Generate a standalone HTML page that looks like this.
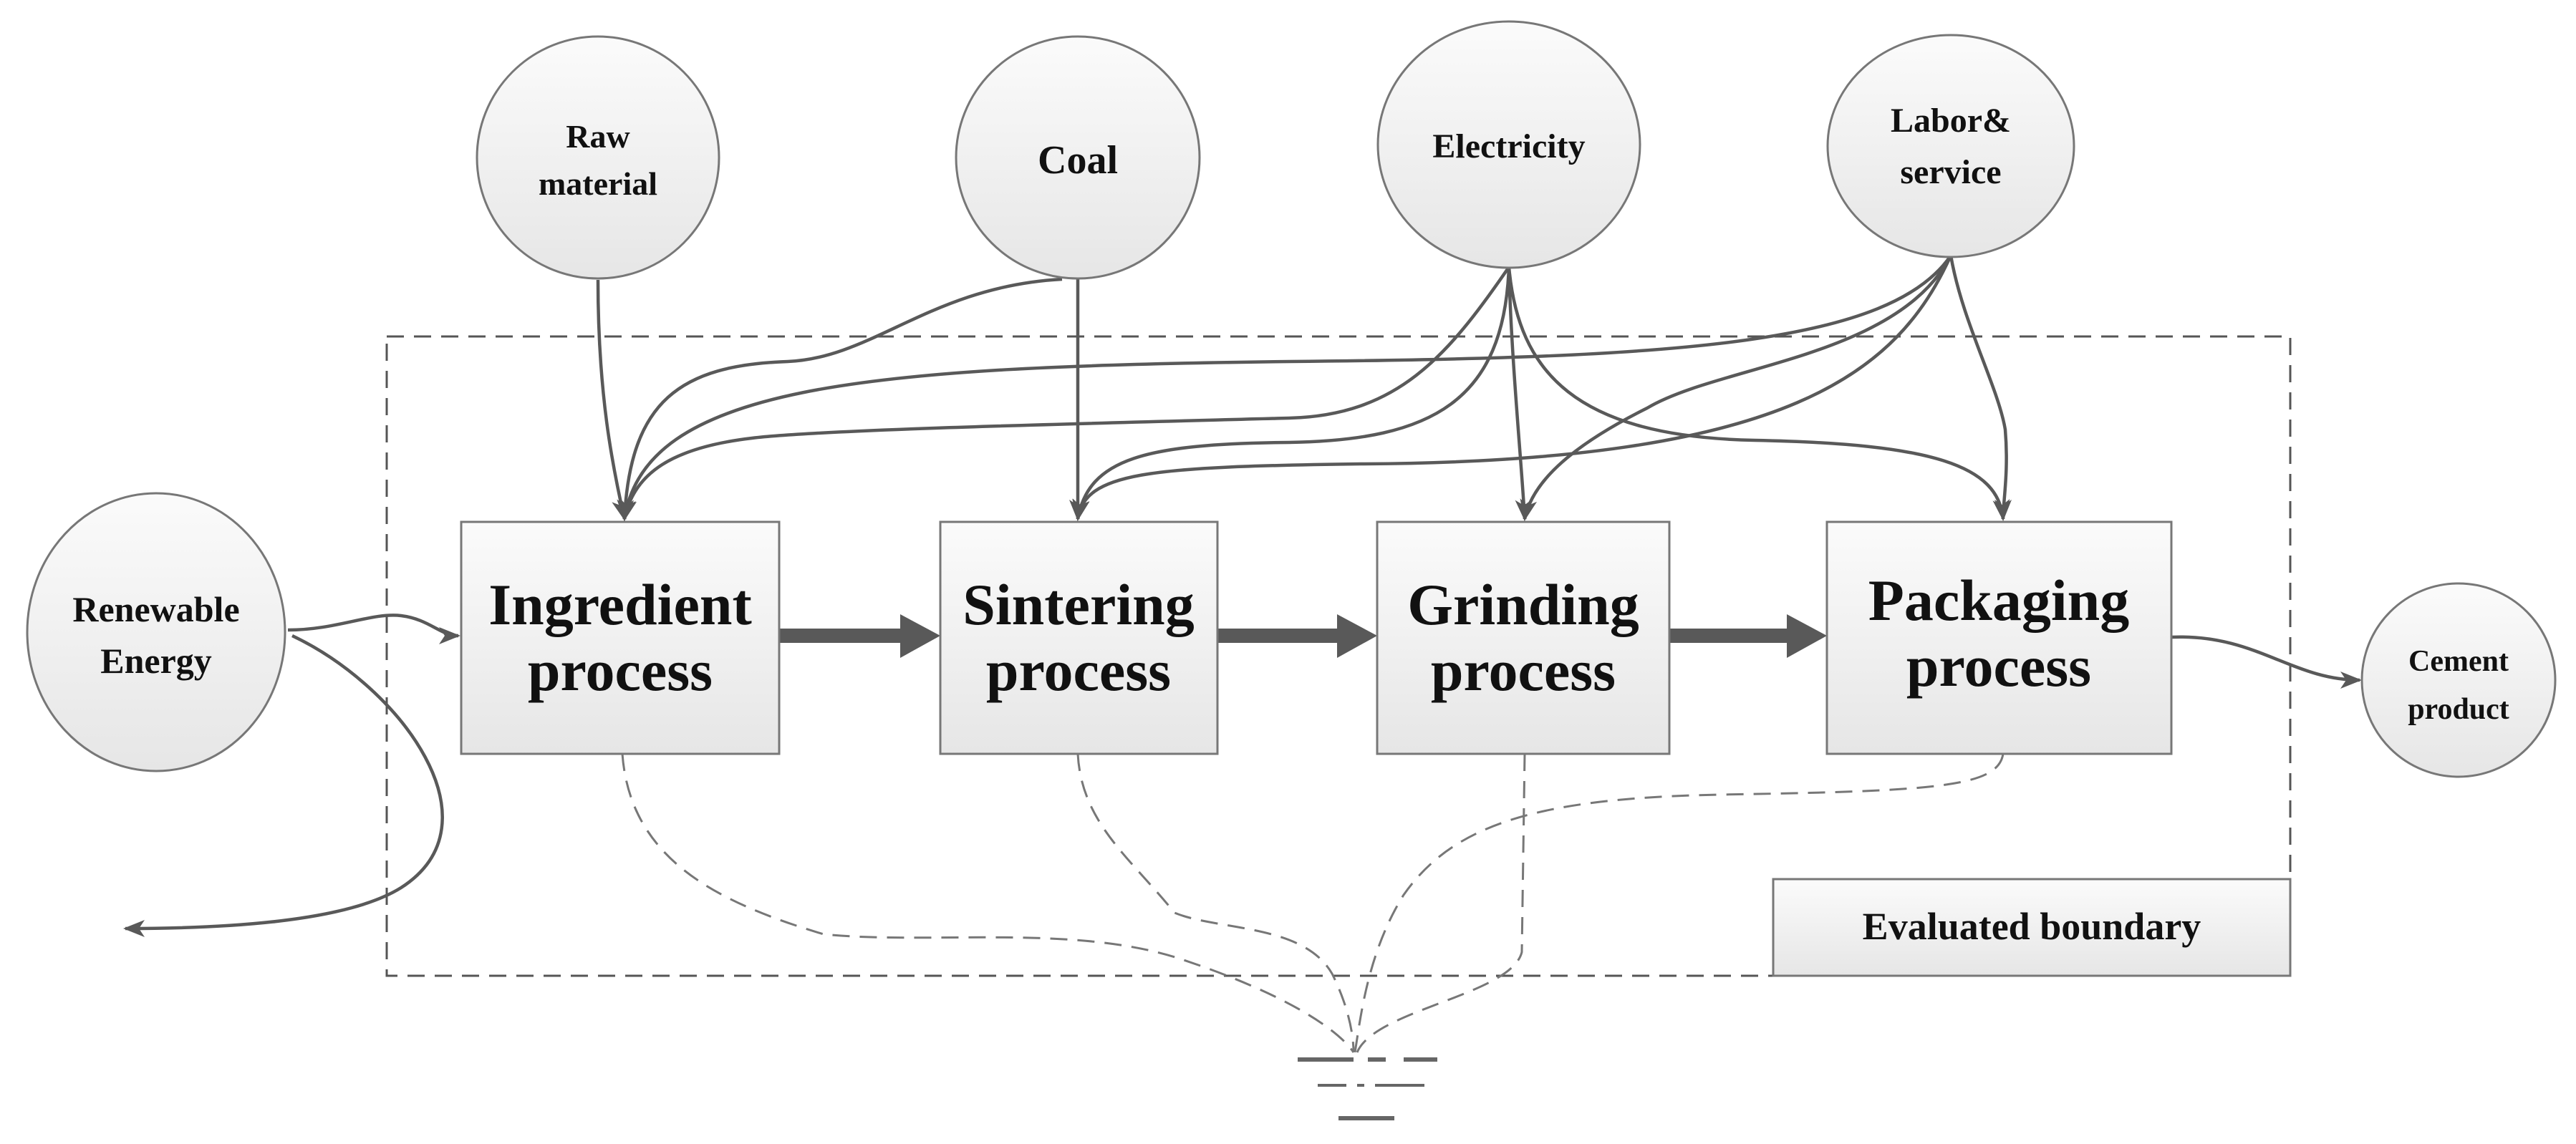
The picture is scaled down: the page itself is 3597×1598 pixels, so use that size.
<!DOCTYPE html>
<html><head><meta charset="utf-8"><style>html,body{margin:0;padding:0;background:#fff}svg{display:block}</style></head>
<body>
<svg width="3597" height="1598" viewBox="0 0 3597 1598" xmlns="http://www.w3.org/2000/svg">
<defs>
<linearGradient id="g" x1="0" y1="0" x2="0" y2="1"><stop offset="0" stop-color="#fbfbfb"/><stop offset="1" stop-color="#e6e6e6"/></linearGradient>
<marker id="b" markerWidth="30" markerHeight="30" refX="27" refY="15" orient="auto" markerUnits="userSpaceOnUse" viewBox="0 0 30 30"><path d="M0,3 L30,15 L0,27 L8,15 z" fill="#595959"/></marker>
</defs>
<g font-family="'Liberation Serif',serif" font-weight="bold" fill="#111" text-anchor="middle">
<rect x="540" y="470" width="2658" height="893" fill="none" stroke="#555" stroke-width="3" stroke-dasharray="24,14"/>
<rect x="2476" y="1228" width="722" height="135" fill="url(#g)" stroke="#777" stroke-width="3"/>
<text x="2837" y="1312" font-size="54">Evaluated boundary</text>

<g fill="none" stroke="#595959" stroke-width="4.5">
<path d="M835,391 C835,550 855,650 872,725" marker-end="url(#b)"/>
<path d="M1483,390 C1300,400 1220,500 1100,505 C950,510 880,560 872,725" marker-end="url(#b)"/>
<path d="M2724,357 C2640,480 2350,500 1800,505 C1200,512 900,540 872,725" marker-end="url(#b)"/>
<path d="M2107,373 C2020,500 1950,580 1800,584 C1500,592 1150,600 1050,612 C940,625 885,660 872,725" marker-end="url(#b)"/>
<path d="M1505,390 L1505,725" marker-end="url(#b)"/>
<path d="M2107,373 C2100,560 2000,615 1800,618 C1600,620 1520,640 1505,725" marker-end="url(#b)"/>
<path d="M2724,357 C2650,520 2500,645 1900,648 C1600,652 1515,660 1505,725" marker-end="url(#b)"/>
<path d="M2107,373 C2110,500 2125,650 2129,725" marker-end="url(#b)"/>
<path d="M2724,357 C2650,500 2400,510 2300,570 C2200,620 2140,670 2129,725" marker-end="url(#b)"/>
<path d="M2107,373 C2120,520 2200,610 2450,615 C2700,620 2790,650 2797,725" marker-end="url(#b)"/>
<path d="M2724,357 C2740,450 2790,540 2800,600 C2805,660 2797,700 2797,725" marker-end="url(#b)"/>
<path d="M402,880 C470,880 520,855 560,860 C600,865 615,888 640,888" marker-end="url(#b)"/>
<path d="M408,888 C560,960 700,1150 560,1240 C480,1290 300,1297 175,1297" marker-end="url(#b)"/>
<path d="M3032,890 C3150,885 3200,950 3295,950" marker-end="url(#b)"/>
</g>
<g fill="#595959">
<path d="M1088,878 L1257,878 L1257,858 L1313,888 L1257,919 L1257,898 L1088,898 z"/>
<path d="M1700,878 L1867,878 L1867,858 L1923,888 L1867,919 L1867,898 L1700,898 z"/>
<path d="M2331,878 L2495,878 L2495,858 L2551,888 L2495,919 L2495,898 L2331,898 z"/>
</g>
<g fill="none" stroke="#777" stroke-width="3" stroke-dasharray="24,14">
<path d="M869,1053 C880,1200 1000,1260 1150,1305 C1300,1320 1500,1290 1650,1340 C1800,1390 1870,1440 1890,1470"/>
<path d="M1505,1053 C1510,1150 1580,1200 1640,1275 C1700,1300 1820,1290 1860,1360 C1880,1400 1890,1440 1890,1470"/>
<path d="M2129,1053 L2125,1330 C2110,1390 1920,1410 1895,1470"/>
<path d="M2797,1053 C2790,1100 2700,1105 2400,1110 C2150,1115 2030,1150 1960,1250 C1910,1330 1900,1420 1892,1470"/>
</g>
<g stroke="#666" stroke-width="6">
<line x1="1812" y1="1480" x2="1890" y2="1480"/>
<line x1="1910" y1="1480" x2="1935" y2="1480"/>
<line x1="1960" y1="1480" x2="2007" y2="1480"/>
<line x1="1840" y1="1516" x2="1880" y2="1516" stroke-width="4"/>
<line x1="1895" y1="1516" x2="1905" y2="1516" stroke-width="4"/>
<line x1="1920" y1="1516" x2="1989" y2="1516" stroke-width="4"/>
<line x1="1869" y1="1562" x2="1947" y2="1562"/>
</g>

<g fill="url(#g)" stroke="#777" stroke-width="3">
<ellipse cx="835" cy="220" rx="169" ry="169"/>
<ellipse cx="1505" cy="220" rx="170" ry="169"/>
<ellipse cx="2107" cy="202" rx="183" ry="172"/>
<ellipse cx="2724" cy="204" rx="172" ry="155"/>
<ellipse cx="218" cy="883" rx="180" ry="194"/>
<ellipse cx="3433" cy="950" rx="135" ry="135"/>
</g>
<text x="835" y="206" font-size="46">Raw</text>
<text x="835" y="272" font-size="46">material</text>
<text x="1505" y="242" font-size="56">Coal</text>
<text x="2107" y="220" font-size="48">Electricity</text>
<text x="2724" y="184" font-size="48">Labor&amp;</text>
<text x="2724" y="256" font-size="48">service</text>
<text x="218" y="868" font-size="50">Renewable</text>
<text x="218" y="940" font-size="50">Energy</text>
<text x="3433" y="937" font-size="42">Cement</text>
<text x="3433" y="1004" font-size="42">product</text>

<g fill="url(#g)" stroke="#777" stroke-width="3">
<rect x="644" y="729" width="444" height="324"/>
<rect x="1313" y="729" width="387" height="324"/>
<rect x="1923" y="729" width="408" height="324"/>
<rect x="2551" y="729" width="481" height="324"/>
</g>
<g font-size="82">
<text x="866" y="872">Ingredient</text><text x="866" y="964">process</text>
<text x="1506" y="872">Sintering</text><text x="1506" y="964">process</text>
<text x="2127" y="872">Grinding</text><text x="2127" y="964">process</text>
<text x="2791" y="866">Packaging</text><text x="2791" y="958">process</text>
</g>
</g>
</svg>
</body></html>
